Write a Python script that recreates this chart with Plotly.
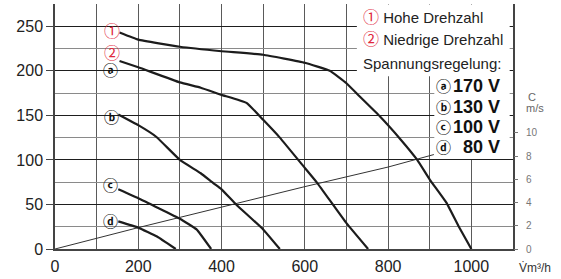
import plotly.graph_objects as go

# ---- data ----
c1_x = [155, 200, 300, 400, 500, 600, 660, 700, 730, 780, 830, 870, 900, 940, 970, 1000]
c1_y = [243, 235, 227, 222, 218, 209, 200, 186, 172, 149, 123, 100, 78, 52, 25, 0]

ca_x = [155, 200, 300, 350, 400, 460, 500, 540, 600, 630, 700, 752]
ca_y = [211, 204, 187, 181, 173, 164, 145, 125, 91, 74, 29, 0]

cb_x = [152, 200, 243, 300, 350, 380, 400, 435, 500, 540]
cb_y = [151, 139, 126, 100, 85, 74, 67, 50, 22, 0]

cc_x = [152, 200, 300, 340, 375]
cc_y = [67, 57, 34, 22, 0]

cd_x = [152, 200, 245, 290]
cd_y = [31, 24, 14, 0]

sys_x = [0, 200, 400, 600, 800, 910]
sys_y = [0, 24, 47, 70, 92, 106]

x_ticks = [0, 200, 400, 600, 800, 1000]
y_ticks = [0, 50, 100, 150, 200, 250]
c_ticks = [0, 2, 4, 6, 8, 10]

curve_labels = ["①", "②", "ⓐ", "ⓑ", "ⓒ", "ⓓ"]
label_x = [136, 136, 134, 136, 134, 134]
label_y = [246, 221.5, 202, 149, 72.6, 32.5]
label_col = ["#e0283c", "#e0283c", "#111", "#111", "#111", "#111"]

volt_marks = ["ⓐ", "ⓑ", "ⓒ", "ⓓ"]
volt_text = ["170 V", "130 V", "100 V", "80 V"]
volt_y = [183, 159.5, 137, 114.5]

FONT = "Liberation Sans, Arial, Helvetica, sans-serif"
SYM = "Noto Sans CJK JP, DejaVu Sans, sans-serif"

fig = go.Figure()

fig.add_trace(go.Scatter(x=sys_x, y=sys_y, mode="lines",
                         line=dict(color="#333", width=1), hoverinfo="skip"))
for xs, ys in [(c1_x, c1_y), (ca_x, ca_y), (cb_x, cb_y), (cc_x, cc_y), (cd_x, cd_y)]:
    fig.add_trace(go.Scatter(x=xs, y=ys, mode="lines",
                             line=dict(color="#1c1c1c", width=2.2, shape="spline", smoothing=0.3),
                             hoverinfo="skip"))

# invisible trace for right axis
fig.add_trace(go.Scatter(x=[0], y=[0], yaxis="y2", mode="markers",
                         marker=dict(opacity=0), hoverinfo="skip"))

# legend boxes (white, cover grid)
fig.add_shape(type="rect", xref="x", yref="y", x0=725, x1=1092, y0=194, y1=274.3,
              fillcolor="white", line=dict(width=0), layer="above")
fig.add_shape(type="rect", xref="x", yref="y", x0=911, x1=1092, y0=101, y1=195,
              fillcolor="white", line=dict(width=0), layer="above")

ann = []
for t, x, y, c in zip(curve_labels, label_x, label_y, label_col):
    if c == "#111":
        txt, sz = "<b>" + t + "</b>", 15
    else:
        txt, sz = t, 16
    ann.append(dict(x=x, y=y, xref="x", yref="y", text=txt, showarrow=False,
                    font=dict(family=SYM, size=sz, color=c)))

ann.append(dict(x=736, y=261, xref="x", yref="y", xanchor="left", showarrow=False,
                text="<span style='color:#e0283c;font-family:Noto Sans CJK JP;font-size:16px'>①</span> Hohe Drehzahl",
                font=dict(family=FONT, size=15, color="#222")))
ann.append(dict(x=736, y=236.5, xref="x", yref="y", xanchor="left", showarrow=False,
                text="<span style='color:#e0283c;font-family:Noto Sans CJK JP;font-size:16px'>②</span> Niedrige Drehzahl",
                font=dict(family=FONT, size=15, color="#222")))
ann.append(dict(x=736, y=208.5, xref="x", yref="y", xanchor="left", showarrow=False,
                text="Spannungsregelung:", font=dict(family=FONT, size=15, color="#222")))
for m, t, y in zip(volt_marks, volt_text, volt_y):
    ann.append(dict(x=934, y=y, xref="x", yref="y", text="<b>" + m + "</b>", showarrow=False,
                    font=dict(family=SYM, size=15, color="#111")))
    ann.append(dict(x=1073, y=y, xref="x", yref="y", xanchor="right", text="<b>" + t + "</b>",
                    showarrow=False, font=dict(family=FONT, size=18, color="#111")))

ann.append(dict(x=1.041, y=171, xref="paper", yref="y", xanchor="center", yanchor="middle",
                text="C", showarrow=False, font=dict(family=FONT, size=11, color="#666")))
ann.append(dict(x=1.048, y=158, xref="paper", yref="y", xanchor="center", yanchor="middle",
                text="m/s", showarrow=False, font=dict(family=FONT, size=11, color="#666")))
ann.append(dict(x=1.048, y=-0.076, xref="paper", yref="paper", xanchor="center", yanchor="middle",
                text="V̇m³/h", showarrow=False, font=dict(family=FONT, size=12, color="#333")))

fig.update_layout(
    width=561, height=279,
    margin=dict(l=55, r=48, t=4, b=30),
    paper_bgcolor="white", plot_bgcolor="white",
    showlegend=False,
    font=dict(family=FONT, size=16, color="#222"),
    xaxis=dict(range=[0, 1100], tickvals=x_ticks, ticks="", showgrid=True, automargin=False,
               gridcolor="#5a5a5a", gridwidth=1, ticklabelstandoff=2,
               minor=dict(dtick=100, showgrid=True, gridcolor="#5a5a5a", gridwidth=1),
               showline=True, linecolor="#444", linewidth=2, mirror=False,
               zeroline=False, tickfont=dict(size=16, color="#222")),
    yaxis=dict(range=[0, 275], tickvals=y_ticks, ticks="outside", ticklen=7, automargin=False,
               tickcolor="#444", showgrid=True, gridcolor="#1e1e1e", gridwidth=1,
               minor=dict(dtick=25, showgrid=True, gridcolor="#8a8a8a", gridwidth=1),
               showline=True, linecolor="#444", linewidth=1.5, mirror=True,
               zeroline=False, tickfont=dict(size=16, color="#222")),
    yaxis2=dict(range=[0, 21.1], overlaying="y", side="right", tickvals=c_ticks, automargin=False,
                ticks="outside", ticklen=4, tickcolor="#777", showgrid=False, ticklabelstandoff=6,
                showline=False, zeroline=False, tickfont=dict(size=10, color="#777")),
    annotations=ann,
)

fig.write_html("out.html", config={"displayModeBar": False},
               post_script="document.body.style.margin='0';document.body.style.padding='0';")
